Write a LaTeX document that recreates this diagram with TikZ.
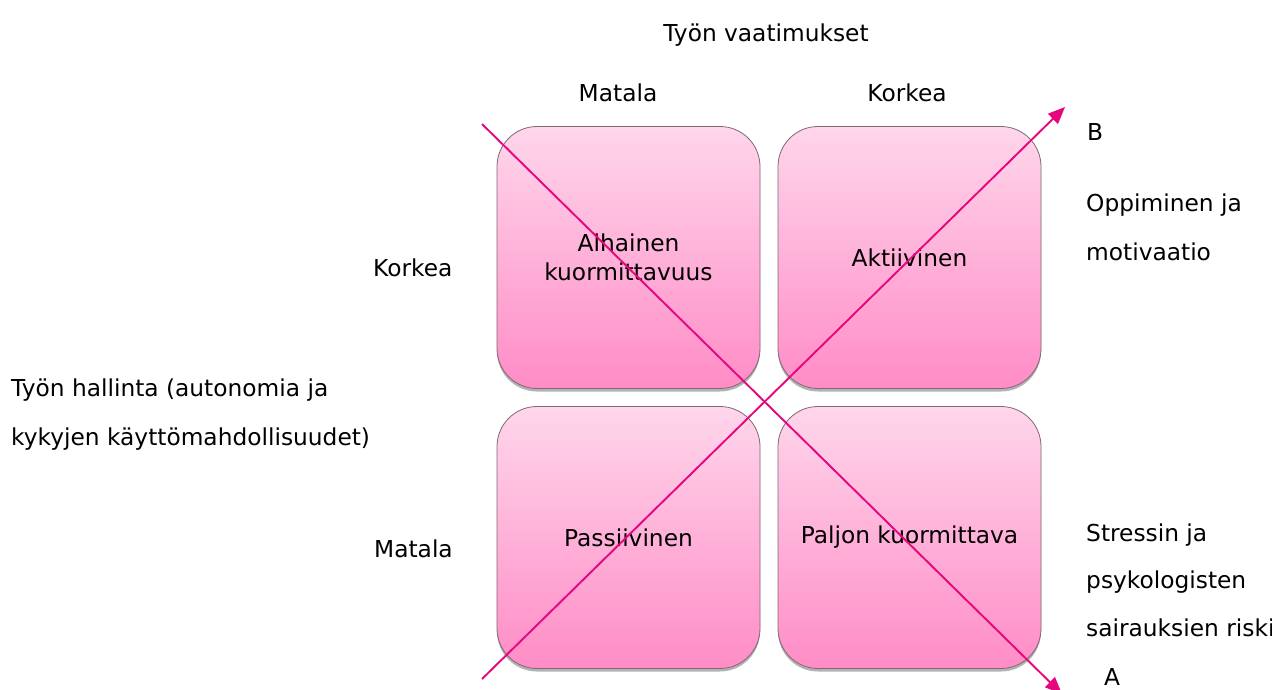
\documentclass[tikz,border=0pt]{standalone}
\usepackage{fontspec}
\setmainfont{DejaVu Sans}
\usetikzlibrary{arrows.meta,shadows}
\definecolor{lin}{HTML}{E6067E}
\definecolor{boxtop}{HTML}{FFD6EB}
\definecolor{boxbot}{HTML}{FF8CC6}
\definecolor{boxedge}{HTML}{806874}
\begin{document}
\begin{tikzpicture}[x=1pt,y=-1pt,
  quad/.style={draw=boxedge, line width=0.8pt, rounded corners=40pt,
    top color=boxtop, bottom color=boxbot,
    minimum width=263pt, minimum height=262pt, inner sep=0pt,
    drop shadow={shadow xshift=0pt,shadow yshift=-3pt,opacity=0.3,fill=black},
    align=center, font=\fontsize{23.3}{28.7}\selectfont},
  lab/.style={font=\fontsize{23.3}{28}\selectfont, inner sep=0pt, anchor=base west},
  labc/.style={lab, anchor=base},
  diag/.style={draw=lin, line width=1.9pt},
  tip/.style={-{Triangle[length=17pt,width=14pt]}}]
\useasboundingbox (0,0) rectangle (1272,689);
\fill[white] (0,0) rectangle (1272,689);

% quadrants
\node[quad] (tl) at (628.5,257.5) {Alhainen\\kuormittavuus};
\node[quad] (tr) at (909.5,257.5) {Aktiivinen};
\node[quad] (bl) at (628.5,537.5) {Passiivinen};
\node[quad] (br) at (909.5,537.5) {Paljon kuormittava};

% labels
\node[labc] (tv) at (766,41.7) {Työn vaatimukset};
\node[labc] (mt) at (618,101.7) {Matala};
\node[labc] (kt) at (907,101.7) {Korkea};
\node[lab] (lb) at (1087,140) {B};
\node[lab] (op1) at (1086,211.7) {Oppiminen ja};
\node[lab] (op2) at (1086,260.7) {motivaatio};
\node[lab] (kl) at (373,276) {Korkea};
\node[lab] (th1) at (11,396.7) {Työn hallinta (autonomia ja};
\node[lab] (th2) at (11,445) {kykyjen käyttömahdollisuudet)};
\node[lab] (ml) at (374,557) {Matala};
\node[lab] (s1) at (1086,541) {Stressin ja};
\node[lab] (s2) at (1086,588.5) {psykologisten};
\node[lab] (s3) at (1086,636) {sairauksien riski};
\node[lab] (la) at (1104,685) {A};

% diagonals
\coordinate (a0) at (482,124);
\coordinate (a1) at (1062,694);
\coordinate (b0) at (482,679);
\coordinate (b1) at (1065,107);
\draw[diag,tip] (a0) -- (a1);
\draw[diag,tip] (b0) -- (b1);
\end{tikzpicture}
\end{document}
